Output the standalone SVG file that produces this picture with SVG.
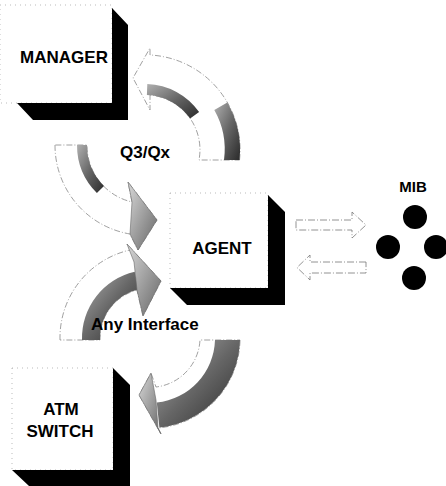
<svg xmlns="http://www.w3.org/2000/svg" width="446" height="486" viewBox="0 0 446 486">
<defs>
<style>
.face{fill:#fff;stroke:#aaa;stroke-width:0.8;stroke-dasharray:1 4}
.ext{fill:#000}
.lbl{font-family:"Liberation Sans",Arial,Helvetica,sans-serif;font-weight:bold;fill:#000}
.arc{fill:#fff;stroke:#888;stroke-width:0.8;stroke-dasharray:6 2 1 2}
.hollow{fill:#fff;stroke:#777;stroke-width:0.8;stroke-dasharray:7 2 1 2}
.dark{fill:url(#shade);stroke:none}
.head{fill:url(#shade2);stroke:#666;stroke-width:0.6}
</style>
<linearGradient id="shade" x1="0" y1="0" x2="1" y2="1">
<stop offset="0" stop-color="#b0b0b0"/>
<stop offset="0.5" stop-color="#666"/>
<stop offset="1" stop-color="#2a2a2a"/>
</linearGradient>
<linearGradient id="shade2" x1="0" y1="0" x2="1" y2="1">
<stop offset="0" stop-color="#d8d8d8"/>
<stop offset="1" stop-color="#666"/>
</linearGradient>
</defs>
<rect width="446" height="486" fill="#fff"/>

<g id="connectors">
  <g id="arrow-agent-to-manager">
    <path class="arc" d="M 239.5,160 A 95 95 0 0 0 150,55 L 150,48 L 133,78 L 150,110 L 150,95 A 55 55 0 0 1 199,160 Z"/>
    <path class="dark" d="M 147.3,84 A 66 66 0 0 1 199.1,112.1 L 190.1,118.5 A 55 55 0 0 0 146.9,95 Z"/>
    <path class="dark" d="M 227.3,102.5 A 95 95 0 0 1 239.5,160 L 224,160 A 80 80 0 0 0 214.3,110 Z"/>
  </g>
  <g id="arrow-manager-to-agent">
    <path class="arc" d="M 55,145 A 90 90 0 0 0 130,234 L 138,250 L 157,220 L 128,182 L 132,202 A 58 58 0 0 1 87,145 Z"/>
    <path class="dark" d="M 77,145 A 68 68 0 0 0 96.9,193.1 L 104,186 A 58 58 0 0 1 87,145 Z"/>
    <path class="head" d="M 130,234 L 138,250 L 157,220 L 128,182 L 132,202 Z"/>
  </g>
  <g id="arrow-switch-to-agent">
    <path class="arc" d="M 60,340 A 90 90 0 0 1 130,250 L 127,244 L 161,281 L 143,316 L 137,290 A 50 50 0 0 0 100,340 Z"/>
    <path class="dark" d="M 82,340 A 68 68 0 0 1 134.7,271.8 L 138.7,289.3 A 50 50 0 0 0 100,340 Z"/>
    <path class="head" d="M 134,262 L 127,244 L 161,281 L 143,316 L 137,290 Z"/>
  </g>
  <g id="arrow-agent-to-switch">
    <path class="arc" d="M 240,340 A 90 90 0 0 1 158,428 L 161,434 L 139,395 L 151,373 L 156,387 A 50 50 0 0 0 200,340 Z"/>
    <path class="dark" d="M 240,340 A 90 90 0 0 1 159.4,427.5 L 156.8,402.6 A 65 65 0 0 0 215,340 Z"/>
    <path class="head" d="M 158,428 L 161,434 L 139,395 L 151,373 L 156,400 Z"/>
  </g>
  <path id="arrow-agent-to-mib" class="hollow" d="M 296,220 L 352,220 L 352,212 L 366,225 L 352,238 L 352,230 L 296,230 Z"/>
  <path id="arrow-mib-to-agent" class="hollow" d="M 366,262 L 310,262 L 310,255 L 297,267.5 L 310,280 L 310,273 L 366,273 Z"/>
  <text class="lbl" x="120" y="158" font-size="17">Q3/Qx</text>
  <text class="lbl" x="91" y="330" font-size="17">Any Interface</text>
</g>

<g id="node-manager">
  <rect class="face" x="0" y="5" width="112" height="98"/>
  <polygon class="ext" points="112,8 128,25 128,120 33,120 17,103 112,103"/>
  <text class="lbl" x="64" y="63" font-size="17" text-anchor="middle">MANAGER</text>
</g>

<g id="node-agent">
  <rect class="face" x="170" y="193" width="98" height="95"/>
  <polygon class="ext" points="268,195 285,212 285,305 187,305 170,288 268,288"/>
  <text class="lbl" x="222" y="254" font-size="17" text-anchor="middle">AGENT</text>
</g>

<g id="node-atm-switch">
  <rect class="face" x="12" y="368" width="101" height="102"/>
  <polygon class="ext" points="113,368 130,385 130,486 29,486 12,470 113,470"/>
  <text class="lbl" x="61" y="415" font-size="17" text-anchor="middle">ATM</text>
  <text class="lbl" x="60" y="437" font-size="17" text-anchor="middle">SWITCH</text>
</g>

<g id="node-mib">
  <text class="lbl" x="413" y="192" font-size="15" text-anchor="middle">MIB</text>
  <circle cx="415" cy="217" r="12"/>
  <circle cx="388" cy="247" r="12"/>
  <circle cx="436" cy="247" r="12"/>
  <circle cx="414" cy="278" r="12"/>
</g>
</svg>
